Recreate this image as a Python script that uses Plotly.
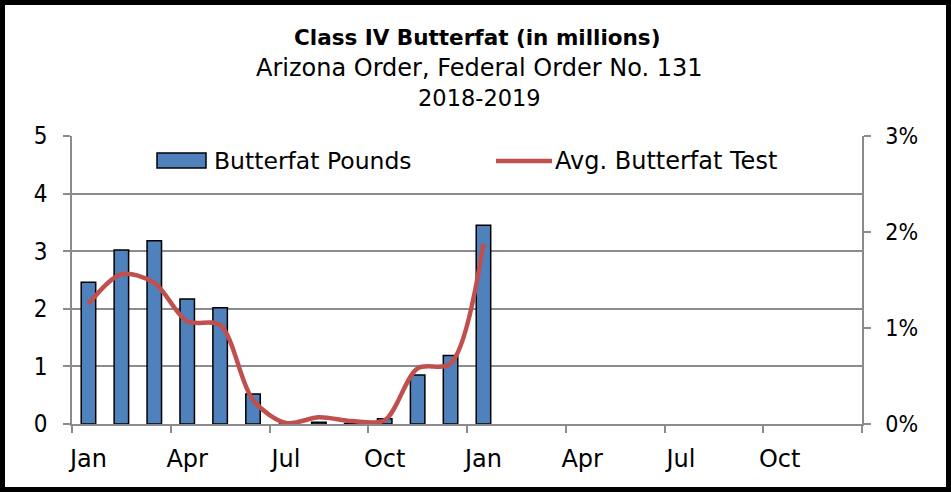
import plotly.graph_objects as go

months = list(range(13))
tick_pos = [0, 3, 6, 9, 12, 15, 18, 21]
tick_labels = ["Jan", "Apr", "Jul", "Oct", "Jan", "Apr", "Jul", "Oct"]
butterfat_pounds = [2.46, 3.02, 3.18, 2.17, 2.02, 0.52, 0.0, 0.03, 0.01, 0.09, 0.85, 1.19, 3.45]
butterfat_test = [0.0125, 0.0156, 0.0147, 0.0107, 0.0103, 0.0025, 0.0001, 0.0007, 0.0003, 0.0004, 0.0058, 0.0063, 0.0188]

FONT = "DejaVu Sans, sans-serif"
FONT_NUM = "DejaVu Sans Condensed, DejaVu Sans, sans-serif"
GRID = "#8c8c8c"
W, H = 951, 492
L, R, T, B = 72, 862, 136, 424

def px(xp):
    return (xp - L) / (R - L)

def py(yp):
    return (B - yp) / (B - T)

fig = go.Figure()
fig.add_trace(go.Bar(
    x=months, y=butterfat_pounds, name="Butterfat Pounds",
    marker=dict(color="#4F81BD", line=dict(color="black", width=1.5)),
    yaxis="y"))
fig.add_trace(go.Scatter(
    x=months, y=butterfat_test, name="Avg. Butterfat Test", mode="lines",
    line=dict(color="#C0504D", width=4.5, shape="spline", smoothing=0.9),
    yaxis="y2"))

fig.update_layout(
    width=W, height=H,
    margin=dict(l=L, r=W - R, t=T, b=H - B),
    paper_bgcolor="white", plot_bgcolor="white",
    showlegend=False, bargap=0.56,
    font=dict(family=FONT, size=24, color="black"),
    xaxis=dict(range=[-0.5, 23.5], tickmode="array", tickvals=tick_pos, ticktext=tick_labels,
               ticks="", showline=True, linecolor=GRID, linewidth=1.5, showgrid=False,
               zeroline=False, ticklabelstandoff=12, tickfont=dict(family=FONT, size=24),
               minor=dict(tickmode="linear", tick0=-0.5, dtick=3, ticks="outside",
                          ticklen=7, tickcolor=GRID, tickwidth=1.5, showgrid=False)),
    yaxis=dict(range=[0, 5], dtick=1, showgrid=True, gridcolor=GRID, gridwidth=1.5,
               showline=True, linecolor=GRID, linewidth=1.5, ticks="outside", ticklen=7,
               tickcolor=GRID, tickwidth=1.5, zeroline=False, ticklabelstandoff=11,
               tickfont=dict(family=FONT_NUM, size=24)),
    yaxis2=dict(range=[0, 0.03], dtick=0.01, tickformat=".0%", overlaying="y", side="right",
                showgrid=False, showline=True, linecolor=GRID, linewidth=1.5, ticks="outside",
                ticklen=7, tickcolor=GRID, tickwidth=1.5, zeroline=False, ticklabelstandoff=10,
                tickfont=dict(family=FONT_NUM, size=23)),
)

# Titles
fig.add_annotation(text="<b>Class IV Butterfat (in millions)</b>", xref="paper", yref="paper",
                   x=px(478), y=py(37), xanchor="center", yanchor="middle", showarrow=False,
                   font=dict(family=FONT, size=21.5, color="black"))
fig.add_annotation(text="Arizona Order, Federal Order No. 131", xref="paper", yref="paper",
                   x=px(479), y=py(68), xanchor="center", yanchor="middle", showarrow=False,
                   font=dict(family=FONT, size=24, color="black"))
fig.add_annotation(text="2018-2019", xref="paper", yref="paper",
                   x=px(479), y=py(98), xanchor="center", yanchor="middle", showarrow=False,
                   font=dict(family=FONT, size=22.5, color="black"))

# Custom legend
fig.add_shape(type="rect", xref="paper", yref="paper", x0=px(157), x1=px(206), y0=py(153), y1=py(168),
              fillcolor="#4F81BD", line=dict(color="black", width=1.5))
fig.add_annotation(text="Butterfat Pounds", xref="paper", yref="paper", x=px(212), y=py(161),
                   xanchor="left", yanchor="middle", showarrow=False, font=dict(family=FONT, size=23.5))
fig.add_shape(type="line", xref="paper", yref="paper", x0=px(496), x1=px(552), y0=py(161), y1=py(161),
              line=dict(color="#C0504D", width=4.5))
fig.add_annotation(text="Avg. Butterfat Test", xref="paper", yref="paper", x=px(553), y=py(161),
                   xanchor="left", yanchor="middle", showarrow=False, font=dict(family=FONT, size=24))

# Outer border
fig.add_shape(type="rect", xref="paper", yref="paper", x0=px(2.5), x1=px(W - 2.5), y0=py(H - 2.5), y1=py(2.5),
              line=dict(color="black", width=5), fillcolor="rgba(0,0,0,0)", layer="above")

fig.write_html("out.html", config={"displayModeBar": False},
               post_script="document.body.style.margin='0';document.body.style.overflow='hidden';")
